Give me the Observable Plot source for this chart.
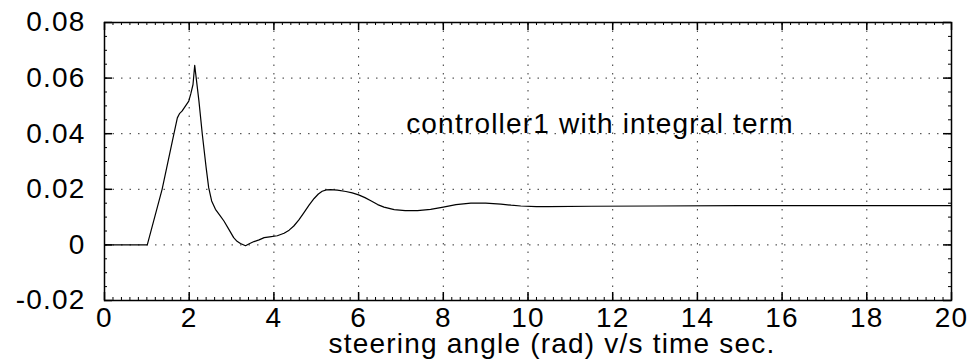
<!DOCTYPE html>
<html>
<head>
<meta charset="utf-8">
<script src="https://cdn.jsdelivr.net/npm/d3@7"></script>
<script src="https://cdn.jsdelivr.net/npm/@observablehq/plot@0.6"></script>
<style>
  body { margin: 0; background: #fff; }
</style>
</head>
<body>
<div id="chart"></div>
<script>
// Steering angle response (rad) over time (s)
const time = [0, 1.01, 1.36, 1.64, 1.72, 1.77, 1.83, 1.99, 2.04, 2.09, 2.13, 2.23, 2.31, 2.40, 2.46, 2.53, 2.62,
  2.72, 2.82, 2.94, 3.05, 3.13, 3.21, 3.33, 3.43, 3.53, 3.65, 3.77, 3.9, 4.08, 4.24, 4.36, 4.47, 4.59, 4.71,
  4.83, 4.95, 5.05, 5.14, 5.24, 5.34, 5.5, 5.7, 5.85, 6.0, 6.15, 6.3, 6.45, 6.6, 6.84, 7.1, 7.39, 7.7, 8.0,
  8.3, 8.65, 9.0, 9.36, 9.6, 9.83, 10.2, 10.47, 11.5, 13, 15, 17, 20];
const angle = [0, 0, 0.02, 0.04, 0.0457, 0.0472, 0.0481, 0.0517, 0.0545, 0.0577, 0.0646, 0.0517, 0.0397, 0.0278, 0.0206, 0.0158, 0.0128,
  0.0107, 0.0086, 0.0055, 0.0026, 0.0013, 0.0005, -0.0003, 0.0005, 0.0012, 0.0018, 0.0026, 0.0029, 0.0033, 0.0042, 0.0053, 0.0068, 0.009, 0.0116,
  0.0143, 0.0167, 0.0183, 0.0193, 0.0198, 0.0199, 0.0197, 0.0192, 0.0187, 0.018, 0.017, 0.0158, 0.0145, 0.0136, 0.0127, 0.0123, 0.0123, 0.0128, 0.0136,
  0.0145, 0.0150, 0.0150, 0.0147, 0.0143, 0.0140, 0.0138, 0.0138, 0.0139, 0.0140, 0.0141, 0.0141, 0.0141];

const xTicks = [0, 2, 4, 6, 8, 10, 12, 14, 16, 18, 20];
const yTicks = [-0.02, 0, 0.02, 0.04, 0.06, 0.08];
const yTickLabels = ["-0.02", "0", "0.02", "0.04", "0.06", "0.08"];
const xMinorTicks = d3.range(0, 20.001, 0.2);
const yMinorTicks = d3.range(-0.02, 0.0801, 0.005);

const annotation = ["controller1 with integral term"];
const xLabel = ["steering angle (rad) v/s time sec."];

const W = 977, H = 363;
const mt = 22, mb = 63, ml = 104, mr = 26;
const iw = W - ml - mr, ih = H - mt - mb;
const font = '"Liberation Sans", Arial, Helvetica, sans-serif';

const points = time.map((t, i) => ({t, a: angle[i]}));
const gridStyle = {stroke: "#333", strokeOpacity: 1, strokeWidth: 1, strokeDasharray: "1.5,7"};

const chart = Plot.plot({
  width: W,
  height: H,
  marginTop: mt,
  marginBottom: mb,
  marginLeft: ml,
  marginRight: mr,
  style: {fontFamily: font, fontSize: "28px", color: "black", background: "white", letterSpacing: "1.2px"},
  x: {domain: [0, 20], label: null},
  y: {domain: [-0.02, 0.08], label: null},
  marks: [
    // dotted grid
    Plot.gridX(xTicks.slice(1, -1), gridStyle),
    Plot.gridY(yTicks.slice(1, -1), gridStyle),
    // minor ticks pointing inward on all four sides
    Plot.tickX(xMinorTicks, {x: d => d, insetTop: ih - 3, stroke: "black"}),
    Plot.tickX(xMinorTicks, {x: d => d, insetBottom: ih - 3, stroke: "black"}),
    Plot.tickY(yMinorTicks, {y: d => d, insetRight: iw - 3, stroke: "black"}),
    Plot.tickY(yMinorTicks, {y: d => d, insetLeft: iw - 3, stroke: "black"}),
    // major ticks pointing inward
    Plot.tickX(xTicks, {x: d => d, insetTop: ih - 8, stroke: "black", strokeWidth: 1.5}),
    Plot.tickX(xTicks, {x: d => d, insetBottom: ih - 8, stroke: "black", strokeWidth: 1.5}),
    Plot.tickY(yTicks, {y: d => d, insetRight: iw - 8, stroke: "black", strokeWidth: 1.5}),
    Plot.tickY(yTicks, {y: d => d, insetLeft: iw - 8, stroke: "black", strokeWidth: 1.5}),
    // response curve
    Plot.line(points, {x: "t", y: "a", stroke: "black", strokeWidth: 1.2}),
    Plot.frame({stroke: "black", strokeWidth: 1.5}),
    // axis labels
    Plot.axisX(xTicks, {tickSize: 0, tickPadding: 7, fill: "black", label: null}),
    Plot.axisY(yTicks, {tickSize: 0, tickPadding: 19, fill: "black", label: null,
      tickFormat: d => yTickLabels[yTicks.indexOf(d)]}),
    Plot.text(xLabel, {frameAnchor: "bottom", dx: 24, dy: 44, lineAnchor: "middle", fill: "black"}),
    Plot.text(annotation, {x: 11.7, y: 0.0434, textAnchor: "middle", lineAnchor: "middle", fill: "black"})
  ]
});

document.getElementById("chart").appendChild(chart);
</script>
</body>
</html>
